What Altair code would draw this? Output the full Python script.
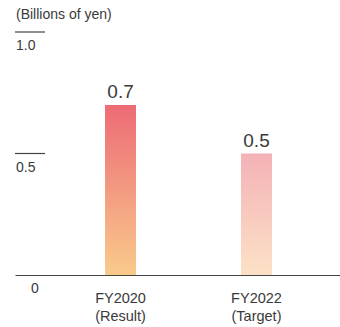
import altair as alt
import pandas as pd

categories = ["FY2020\n(Result)", "FY2022\n(Target)"]
values = [0.7, 0.5]
value_labels = ["0.7", "0.5"]
tick_values = [0.5, 1.0]
tick_labels = ["0.5", "1.0"]
zero_value = [0.0]
zero_label = ["0"]

FONT = "Liberation Sans"
TXT = "#3a3a3a"

bars_df = pd.DataFrame({"cat": categories, "val": values, "lab": value_labels})
ticks_df = pd.DataFrame({"t": tick_values})
tick_lab_df = pd.DataFrame({"t": tick_values, "lab": tick_labels})
zero_df = pd.DataFrame({"t": zero_value, "lab": zero_label})

xscale = alt.Scale(paddingInner=0.5, paddingOuter=0.445, align=0.591)
yscale = alt.Scale(domain=[0, 1])

x_enc = alt.X("cat:N", sort=categories, scale=xscale, title=None,
              axis=alt.Axis(labelExpr="split(datum.label, '\\n')", labelAngle=0,
                            ticks=False, domainColor="#444444", domainWidth=1.2,
                            labelFont=FONT, labelFontSize=14.5, labelColor=TXT,
                            labelLineHeight=18, labelPadding=16, labelBaseline="top"))
y_enc = alt.Y("val:Q", scale=yscale, axis=None)

base = alt.Chart(bars_df)

grad1 = alt.Gradient(gradient="linear", x1=0, y1=0, x2=0, y2=1,
                     stops=[alt.GradientStop(color="#ED6B76", offset=0),
                            alt.GradientStop(color="#F9CA8B", offset=1)])
grad2 = alt.Gradient(gradient="linear", x1=0, y1=0, x2=0, y2=1,
                     stops=[alt.GradientStop(color="#F4B2B7", offset=0),
                            alt.GradientStop(color="#FCE1C6", offset=1)])

bar1 = base.mark_bar(size=31, color=grad1).encode(x=x_enc, y=y_enc).transform_filter(
    alt.datum.cat == categories[0])
bar2 = base.mark_bar(size=31, color=grad2).encode(x=x_enc, y=y_enc).transform_filter(
    alt.datum.cat == categories[1])

val_text = base.mark_text(font=FONT, fontSize=19, color=TXT, baseline="middle", dy=-13).encode(
    x=alt.X("cat:N", sort=categories, scale=xscale), y=y_enc, text="lab:N")

tick_rules = alt.Chart(ticks_df).mark_rule(color="#444444", strokeWidth=1.2).encode(
    y=alt.Y("t:Q", scale=yscale, axis=None), x=alt.value(0), x2=alt.value(30))

tick_text = alt.Chart(tick_lab_df).mark_text(font=FONT, fontSize=14, color=TXT, align="left",
                                              baseline="middle", dy=14).encode(
    y=alt.Y("t:Q", scale=yscale, axis=None), x=alt.value(1), text="lab:N")

zero_text = alt.Chart(zero_df).mark_text(font=FONT, fontSize=14, color=TXT, align="center",
                                         baseline="middle", dy=14).encode(
    y=alt.Y("t:Q", scale=yscale, axis=None), x=alt.value(20), text="lab:N")

chart = alt.layer(bar1, bar2, val_text, tick_rules, tick_text, zero_text).properties(
    width=325, height=243,
    padding={"left": 15, "top": 32, "right": 0, "bottom": 52},
    autosize=alt.AutoSizeParams(type="none"),
    title=alt.TitleParams("(Billions of yen)", anchor="start", frame="group", orient="top",
                          offset=9, font=FONT, fontSize=14, fontWeight="normal", color=TXT, dx=1),
).configure_view(stroke=None)

chart.save("out.html", embed_options={"renderer": "svg", "actions": False})
